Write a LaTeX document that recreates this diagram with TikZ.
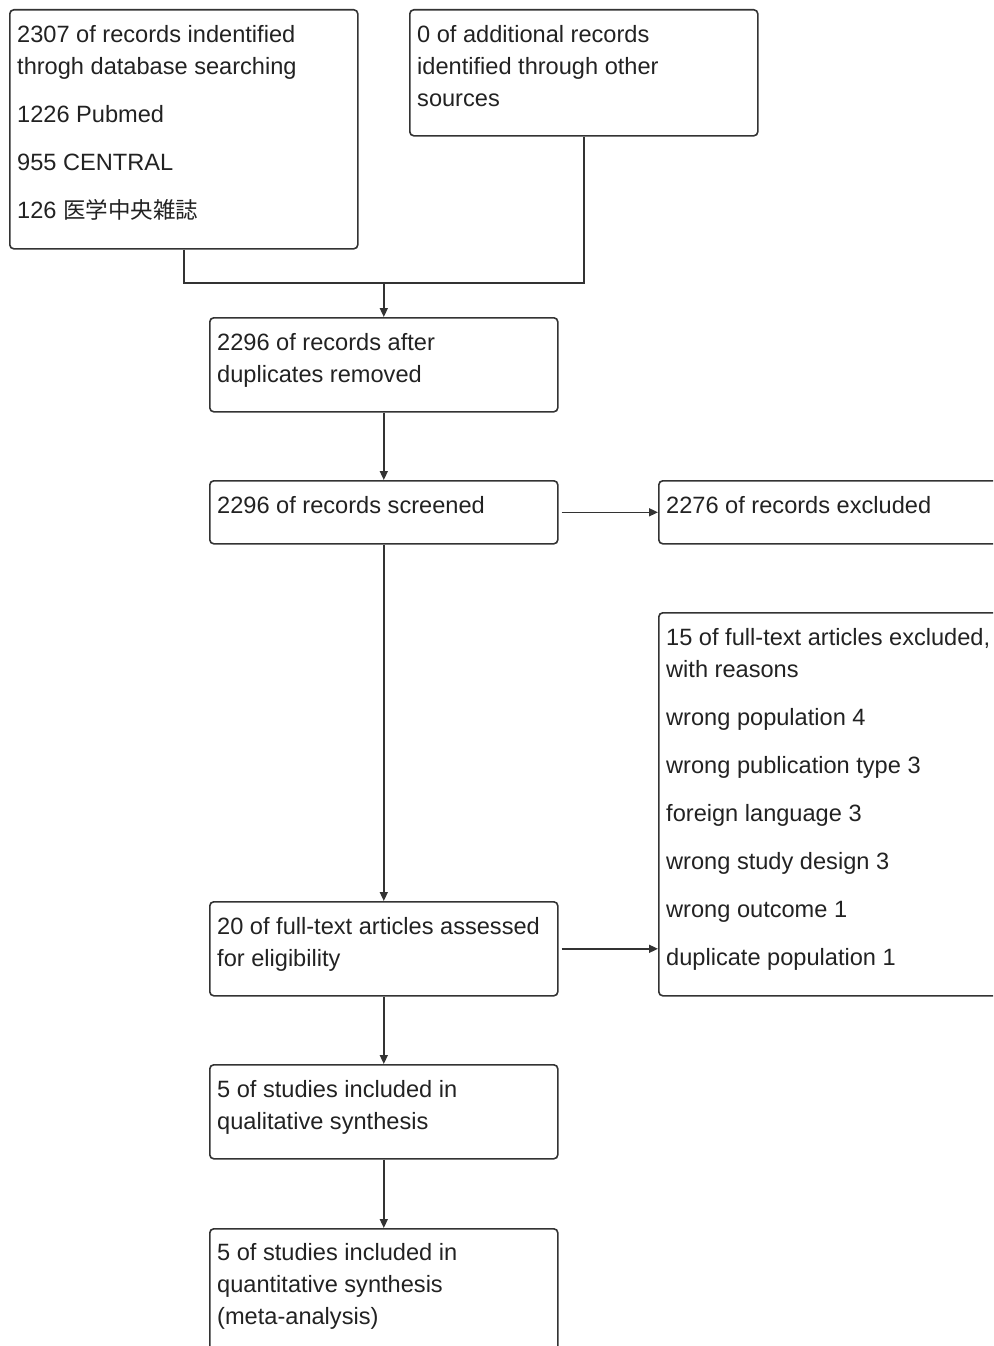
\documentclass[tikz,border=0pt]{standalone}
\usepackage{fontspec}
\setmainfont{Liberation Sans}
\newfontfamily\cjk{Noto Sans CJK JP}
\usetikzlibrary{arrows.meta}
\definecolor{boxc}{HTML}{333333}
\definecolor{txtc}{HTML}{222222}
\tikzset{
  box/.style={draw=boxc, line width=1.6pt, rounded corners=4pt, minimum width=348pt, inner sep=0pt, anchor=north west},
  txt/.style={anchor=base west, inner sep=0pt, text=txtc, font=\fontsize{23.6}{32}\selectfont},
  ln/.style={draw=boxc, line width=1.6pt},
  arr/.style={ln, -{Triangle[length=9pt,width=8pt]}}
}
\newcommand{\boxtext}[1]{\parbox[t]{420pt}{\raggedright #1}}
\begin{document}
\begin{tikzpicture}[x=1pt, y=-1pt]
\clip (0,0) rectangle (993,1346);
% boxes
\node[box, minimum height=239pt] (A) at (9,9) {};
\node[box, minimum height=126pt] (B) at (409,9) {};
\node[box, minimum height=94pt] (C) at (209,317) {};
\node[box, minimum height=63pt] (D) at (209,480) {};
\node[box, minimum height=63pt] (E) at (658,480) {};
\node[box, minimum height=383pt] (F) at (658,612) {};
\node[box, minimum height=94pt] (G) at (209,901) {};
\node[box, minimum height=94pt] (H) at (209,1064) {};
\node[box, minimum height=140pt] (I) at (209,1228) {};
% texts
\node[txt] (tA) at (17,42.5) {\boxtext{2307 of records indentified\\throgh database searching\\[16pt]1226 Pubmed\\[16pt]955 CENTRAL\\[16pt]126 {\cjk\fontsize{22.5}{32}\selectfont 医学中央雑誌}}};
\node[txt] (tB) at (417,42.5) {\boxtext{0 of additional records\\identified through other\\sources}};
\node[txt] (tC) at (217,350.5) {\boxtext{2296 of records after\\duplicates removed}};
\node[txt] (tD) at (217,513.5) {\boxtext{2296 of records screened}};
\node[txt] (tE) at (666,513.5) {\boxtext{2276 of records excluded}};
\node[txt] (tF) at (666,645.5) {\boxtext{15 of full-text articles excluded,\\with reasons\\[16pt]wrong population 4\\[16pt]wrong publication type 3\\[16pt]foreign language 3\\[16pt]wrong study design 3\\[16pt]wrong outcome 1\\[16pt]duplicate population 1}};
\node[txt] (tG) at (217,934.5) {\boxtext{20 of full-text articles assessed\\for eligibility}};
\node[txt] (tH) at (217,1097.5) {\boxtext{5 of studies included in\\qualitative synthesis}};
\node[txt] (tI) at (217,1260.5) {\boxtext{5 of studies included in\\quantitative synthesis\\(meta-analysis)}};
% connectors
\path (C.north) ++(0,-34) coordinate (j);
\draw[ln] (A.south) |- (j);
\draw[ln] (B.south) |- (j);
\draw[arr] (j) -- (C.north);
\draw[arr] (C.south) -- (D.north);
\draw[arr, shorten <=3pt] (D.east) -- (E.west);
\draw[arr] (D.south) -- (G.north);
\draw[arr, shorten <=3pt] (G.east) -- (F.west |- G.east);
\draw[arr] (G.south) -- (H.north);
\draw[arr] (H.south) -- (I.north);
\end{tikzpicture}
\end{document}
